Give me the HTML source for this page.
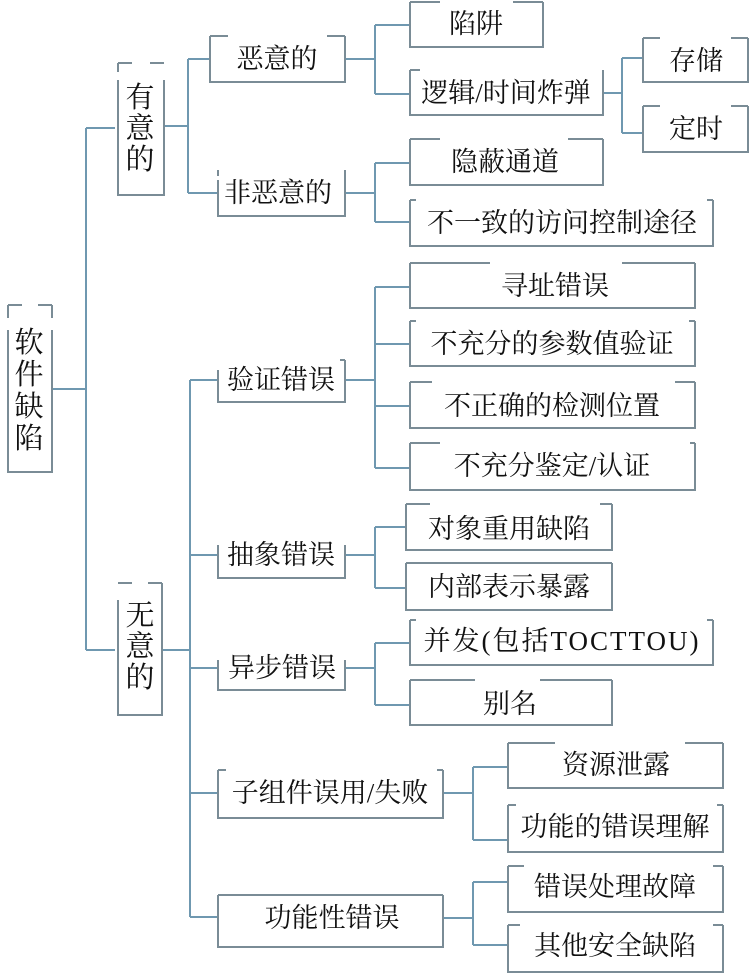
<!DOCTYPE html>
<html><head><meta charset="utf-8"><style>
html,body{margin:0;padding:0;background:#fff;}
svg{display:block;}
text{font-family:"Liberation Serif","Noto Serif CJK SC","Noto Sans CJK SC",serif;font-size:27px;fill:#111;text-anchor:middle;dominant-baseline:central;}
.v{font-size:29px;}
</style></head><body>
<svg width="756" height="978" viewBox="0 0 756 978" xmlns="http://www.w3.org/2000/svg">
<g fill="none" stroke="#6f98b0" stroke-width="2">
<path d="M52 389H86M86 128V650M86 128H115M86 650H115"/>
<path d="M164 126H188M188 59V193M188 59H210M188 193H218"/>
<path d="M345 59H375M375 25V94M375 25H410M375 94H410"/>
<path d="M603 93H622M622 58V133M622 58H643M622 133H643"/>
<path d="M345 193H375M375 163V222M375 163H410M375 222H410"/>
<path d="M162 650H190M190 380V917M190 380H218M190 555H218M190 668H218M190 793H218M190 917H218"/>
<path d="M345 380H375M375 287V468M375 287H410M375 344H410M375 406H410M375 468H410"/>
<path d="M345 555H375M375 527V588M375 527H406M375 588H406"/>
<path d="M345 668H375M375 643V705M375 643H410M375 705H410"/>
<path d="M443 793H473M473 767V840M473 767H508M473 840H508"/>
<path d="M443 918H473M473 882V945M473 882H508M473 945H508"/>
</g>
<g fill="none" stroke="#7a8c96" stroke-width="2">
<path d="M8 330V472H52V330M8 305V318M8 305H22M52 305V318M52 305H38"/>
<path d="M118 80V195H164V80M118 63H132M118 63V72M164 63H150"/>
<path d="M118 600V715H162V600M118 583H132M162 583H148M162 583V650"/>
<path d="M210 36V82H345V36M210 36H228M345 36H327"/>
<path d="M218 180V216H345V170M218 170V176"/>
<path d="M410 2V47H543V2M410 2H440M543 2H513"/>
<path d="M410 70V115H603V70M410 70H420"/>
<path d="M643 38V82H748V38M643 38H660M748 38H731"/>
<path d="M643 106V152H748V106M643 106H660M748 106H731"/>
<path d="M410 139V185H603V139M410 139H440M603 139H568"/>
<path d="M410 200V246H713V200M410 200H416M713 200H707"/>
<path d="M218 370V402H345V360M345 360H340"/>
<path d="M410 263V308H695V263M410 263H490M695 263H622"/>
<path d="M410 321V366H695V321M410 321H416M695 321H689"/>
<path d="M410 382V428H695V382M410 382H432M695 382H675"/>
<path d="M410 443V490H695V443M410 443H440M695 443H690"/>
<path d="M218 545V578H345V545"/>
<path d="M406 504V550H612V504M406 504H430M612 504H600"/>
<path d="M406 563V610H612V563M406 563H612"/>
<path d="M218 660V690H345V660"/>
<path d="M410 620V665H713V620M410 620H416M713 620H707"/>
<path d="M410 680V725H612V680M410 680H475M612 680H540"/>
<path d="M218 770V818H443V770M218 770H226M443 770H437"/>
<path d="M508 743V788H723V743M508 743H555M723 743H685"/>
<path d="M508 805V852H723V805M508 805H516M723 805H717"/>
<path d="M218 895V947H443V895M218 895H443"/>
<path d="M508 866V912H723V866M508 866H524M723 866H713"/>
<path d="M508 925V972H723V925M508 925H520M723 925H713"/>
</g>
<text class="v" x="29" y="343">软</text><text class="v" x="29" y="375">件</text><text class="v" x="29" y="407">缺</text><text class="v" x="29" y="439">陷</text>
<text class="v" x="140" y="98">有</text><text class="v" x="140" y="129">意</text><text class="v" x="140" y="160">的</text>
<text class="v" x="140" y="616">无</text><text class="v" x="140" y="647">意</text><text class="v" x="140" y="678">的</text>
<text x="277" y="59">恶意的</text>
<text x="278" y="193">非恶意的</text>
<text x="476" y="24">陷阱</text>
<text x="506" y="93">逻辑/时间炸弹</text>
<text x="696" y="61">存储</text>
<text x="696" y="129">定时</text>
<text x="505" y="162">隐蔽通道</text>
<text x="562" y="223">不一致的访问控制途径</text>
<text x="281" y="380">验证错误</text>
<text x="555" y="286">寻址错误</text>
<text x="552" y="344">不充分的参数值验证</text>
<text x="552" y="406">不正确的检测位置</text>
<text x="552" y="466">不充分鉴定/认证</text>
<text x="281" y="555">抽象错误</text>
<text x="509" y="529">对象重用缺陷</text>
<text x="509" y="587">内部表示暴露</text>
<text x="282" y="668">异步错误</text>
<text x="562" y="641" style="letter-spacing:2px">并发(包括TOCTTOU)</text>
<text x="510" y="704">别名</text>
<text x="330" y="793">子组件误用/失败</text>
<text x="616" y="765">资源泄露</text>
<text x="615" y="827">功能的错误理解</text>
<text x="332" y="918">功能性错误</text>
<text x="615" y="887">错误处理故障</text>
<text x="615" y="946">其他安全缺陷</text>
</svg>
</body></html>
